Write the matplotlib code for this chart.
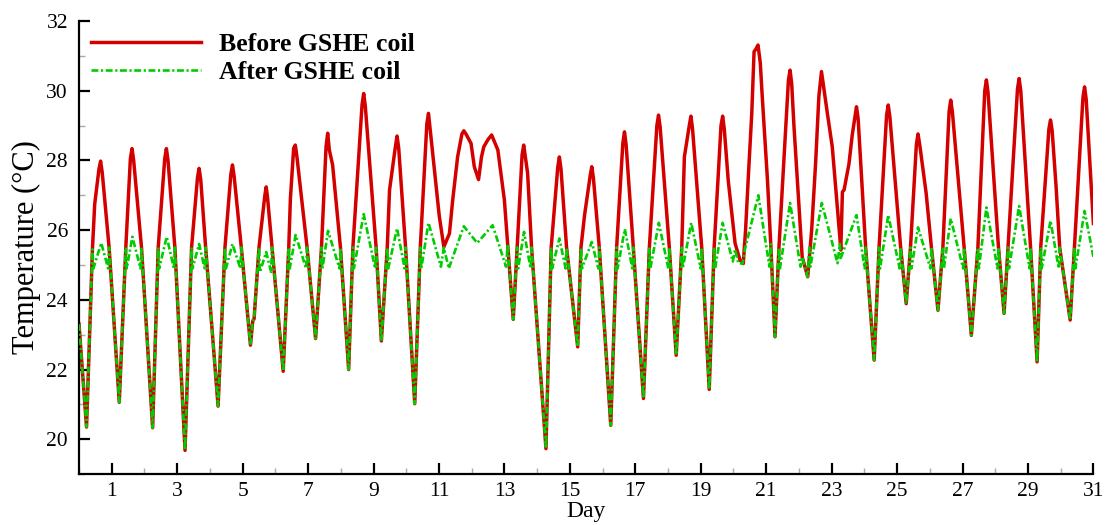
import matplotlib
matplotlib.use("Agg")
import matplotlib.pyplot as plt
from matplotlib.ticker import MultipleLocator

# (day, temperature in deg C)
red_time = [
    0.00, 0.23, 0.41, 0.48, 0.61, 0.66, 0.71, 0.92,
    1.23, 1.43, 1.57, 1.62, 1.67, 1.91,
    2.25, 2.42, 2.62, 2.67, 2.72, 2.93,
    3.24, 3.44, 3.62, 3.67, 3.72, 3.87,
    4.25, 4.46, 4.64, 4.69, 4.74, 4.96,
    5.24, 5.31, 5.35, 5.44, 5.50, 5.68, 5.72, 5.76, 5.90,
    6.24, 6.41, 6.46, 6.56, 6.61, 6.66, 6.97,
    7.23, 7.41, 7.55, 7.60, 7.65, 7.75, 7.99,
    8.24, 8.37, 8.65, 8.70, 8.75, 9.08,
    9.24, 9.42, 9.49, 9.67, 9.72, 9.77, 9.98,
    10.26, 10.43, 10.63, 10.68, 10.73, 10.86, 11.01, 11.15, 11.32, 11.42, 11.57,
    11.70, 11.76, 11.83, 11.98, 12.08, 12.21, 12.30, 12.37, 12.50, 12.61, 12.80,
    13.00, 13.10,
    13.27, 13.39, 13.54, 13.59, 13.64, 13.71, 13.83,
    14.27, 14.43, 14.63, 14.68, 14.73, 14.90,
    15.24, 15.34, 15.45, 15.62, 15.67, 15.72, 15.90,
    16.25, 16.43, 16.62, 16.67, 16.72, 16.94,
    17.25, 17.43, 17.66, 17.71, 17.76, 18.04,
    18.25, 18.42, 18.50, 18.65, 18.70, 18.75, 19.03,
    19.26, 19.41, 19.62, 19.67, 19.72, 19.84, 20.05, 20.20, 20.30, 20.37, 20.46,
    20.56, 20.63, 20.69, 20.75, 20.82, 20.88, 21.04, 21.14,
    21.27, 21.39, 21.68, 21.73, 21.78, 21.85, 22.10, 22.27, 22.39, 22.51, 22.61,
    22.69, 22.75, 22.87, 23.02, 23.25, 23.28, 23.33, 23.38, 23.53, 23.63, 23.76,
    23.81, 24.04,
    24.30, 24.45, 24.68, 24.73, 24.78, 25.11,
    25.28, 25.41, 25.59, 25.64, 25.70, 25.89, 26.05,
    26.25, 26.40, 26.59, 26.64, 26.69, 27.05,
    27.27, 27.47, 27.68, 27.73, 27.78, 28.10,
    28.27, 28.39, 28.68, 28.73, 28.78, 29.08,
    29.28, 29.39, 29.64, 29.69, 29.74, 29.86, 29.97,
    30.29, 30.42, 30.68, 30.73, 30.78, 31.00,
]
red_temp = [
    23.30, 20.35, 25.45, 26.75, 27.75, 27.98, 27.65, 25.50,
    21.06, 25.50, 28.05, 28.34, 28.00, 25.50,
    20.33, 25.50, 28.05, 28.34, 28.00, 25.50,
    19.68, 25.50, 27.50, 27.77, 27.45, 25.50,
    20.95, 25.50, 27.60, 27.87, 27.55, 25.50,
    22.70, 23.40, 23.45, 24.66, 25.50, 27.00, 27.24, 26.95, 25.50,
    21.95, 25.50, 26.90, 28.35, 28.44, 28.10, 25.50,
    22.89, 25.50, 28.40, 28.78, 28.30, 27.87, 25.50,
    22.00, 25.50, 29.60, 29.92, 29.55, 25.50,
    22.82, 25.50, 27.15, 28.40, 28.70, 28.35, 25.50,
    21.02, 25.50, 29.05, 29.35, 28.90, 27.70, 26.40, 25.52, 25.90, 26.86, 28.10,
    28.75, 28.85, 28.75, 28.49, 27.82, 27.45, 28.10, 28.39, 28.60, 28.73, 28.30,
    26.86, 25.60,
    23.44, 25.50, 28.15, 28.44, 28.10, 27.63, 25.50,
    19.73, 25.50, 27.80, 28.10, 27.75, 25.50,
    22.65, 25.50, 26.43, 27.55, 27.82, 27.50, 25.50,
    20.40, 25.50, 28.50, 28.82, 28.45, 25.50,
    21.17, 25.50, 29.00, 29.30, 28.95, 25.50,
    22.41, 25.50, 28.10, 29.00, 29.27, 28.90, 25.50,
    21.43, 25.50, 29.00, 29.27, 28.90, 27.43, 25.62, 25.14, 25.04, 26.00, 27.63,
    29.35, 31.12, 31.20, 31.31, 30.80, 29.83, 27.43, 25.60,
    22.94, 25.50, 30.30, 30.59, 30.20, 28.97, 25.23, 24.66, 26.00, 27.91, 29.83,
    30.55, 30.15, 29.35, 28.39, 25.81, 25.43, 27.10, 27.15, 27.90, 28.73, 29.54,
    29.20, 25.50,
    22.27, 25.50, 29.30, 29.59, 29.25, 25.50,
    23.89, 25.50, 28.45, 28.76, 28.40, 27.05, 25.50,
    23.70, 25.50, 29.40, 29.73, 29.40, 25.50,
    22.98, 25.50, 30.00, 30.31, 29.95, 25.50,
    23.61, 25.50, 30.05, 30.35, 30.00, 25.50,
    22.22, 25.50, 28.90, 29.16, 28.85, 27.24, 25.50,
    23.42, 25.50, 29.80, 30.11, 29.75, 26.19,
]

green_time = [
    0.00, 0.23, 0.41, 0.44, 0.68, 0.89, 0.92,
    1.23, 1.43, 1.46, 1.63, 1.88, 1.91,
    2.25, 2.42, 2.45, 2.68, 2.90, 2.93,
    3.24, 3.44, 3.47, 3.67, 3.84, 3.87,
    4.25, 4.46, 4.49, 4.69, 4.93, 4.96,
    5.24, 5.31, 5.35, 5.44, 5.50, 5.53, 5.72, 5.87, 5.90,
    6.24, 6.41, 6.44, 6.62, 6.94, 6.97,
    7.23, 7.41, 7.44, 7.61, 7.96, 7.99,
    8.24, 8.37, 8.40, 8.70, 9.05, 9.08,
    9.24, 9.42, 9.45, 9.72, 9.95, 9.98,
    10.26, 10.43, 10.46, 10.68, 11.06, 11.15, 11.30, 11.76, 12.17, 12.64, 13.05, 13.10,
    13.27, 13.39, 13.42, 13.60, 13.80, 13.83,
    14.27, 14.43, 14.46, 14.68, 14.87, 14.90,
    15.24, 15.34, 15.37, 15.67, 15.87, 15.90,
    16.25, 16.43, 16.46, 16.68, 16.91, 16.94,
    17.25, 17.43, 17.46, 17.72, 18.01, 18.04,
    18.25, 18.42, 18.45, 18.71, 19.00, 19.03,
    19.26, 19.41, 19.44, 19.67, 19.98, 20.05, 20.15, 20.28, 20.35, 20.76, 21.10, 21.14,
    21.27, 21.39, 21.42, 21.73, 22.05, 22.10, 22.27, 22.32, 22.35, 22.70, 23.18,
    23.25, 23.28, 23.76, 24.01, 24.04,
    24.30, 24.45, 24.48, 24.73, 25.08, 25.11,
    25.28, 25.41, 25.44, 25.64, 26.02, 26.05,
    26.25, 26.40, 26.43, 26.64, 27.02, 27.05,
    27.27, 27.47, 27.50, 27.73, 28.07, 28.10,
    28.27, 28.39, 28.42, 28.73, 29.05, 29.08,
    29.28, 29.39, 29.42, 29.69, 29.94, 29.97,
    30.29, 30.42, 30.45, 30.73, 31.00,
]
green_temp = [
    23.30, 20.35, 25.45, 24.90, 25.63, 24.90, 25.50,
    21.06, 25.50, 24.90, 25.81, 24.90, 25.50,
    20.33, 25.50, 24.90, 25.81, 24.90, 25.50,
    19.68, 25.50, 24.90, 25.60, 24.90, 25.50,
    20.95, 25.50, 24.90, 25.60, 24.90, 25.50,
    22.70, 23.40, 23.45, 24.66, 25.50, 24.80, 25.37, 24.80, 25.50,
    21.95, 25.50, 24.90, 25.86, 24.90, 25.50,
    22.89, 25.50, 24.90, 25.98, 24.90, 25.50,
    22.00, 25.50, 24.90, 26.46, 24.90, 25.50,
    22.82, 25.50, 24.90, 26.05, 24.90, 25.50,
    21.02, 25.50, 24.90, 26.21, 24.95, 25.50, 24.90, 26.11, 25.63, 26.14, 24.95, 25.60,
    23.44, 25.50, 24.90, 25.95, 24.90, 25.50,
    19.73, 25.50, 24.90, 25.76, 24.90, 25.50,
    22.65, 25.50, 24.90, 25.66, 24.90, 25.50,
    20.40, 25.50, 24.90, 26.03, 24.90, 25.50,
    21.17, 25.50, 24.90, 26.21, 24.90, 25.50,
    22.41, 25.50, 24.90, 26.21, 24.90, 25.50,
    21.43, 25.50, 24.90, 26.21, 25.10, 25.45, 25.05, 25.04, 25.45, 27.00, 24.95, 25.60,
    22.94, 25.50, 24.90, 26.78, 24.95, 25.23, 24.66, 25.50, 24.95, 26.78, 25.05,
    25.60, 25.20, 26.43, 24.90, 25.50,
    22.27, 25.50, 24.90, 26.43, 24.90, 25.50,
    23.89, 25.50, 24.90, 26.08, 24.90, 25.50,
    23.70, 25.50, 24.90, 26.33, 24.90, 25.50,
    22.98, 25.50, 24.90, 26.65, 24.90, 25.50,
    23.61, 25.50, 24.90, 26.69, 24.90, 25.50,
    22.22, 25.50, 24.90, 26.27, 24.90, 25.50,
    23.42, 25.50, 24.90, 26.55, 25.23,
]

x_ticks = list(range(1, 32, 2))
y_ticks = list(range(20, 33, 2))

plt.rcParams['font.family'] = ['Liberation Serif', 'DejaVu Serif']

fig = plt.figure(figsize=(11.05, 5.25), dpi=100)
ax = fig.add_axes([0.0715, 0.097, 0.918, 0.863])

ax.plot(red_time, red_temp, color='#d40000', lw=2.5, solid_joinstyle='round',
        label='Before GSHE coil', zorder=2)
ax.plot(green_time, green_temp, color='#00cc00', lw=1.9,
        linestyle=(0, (2.6, 1.0, 0.8, 1.0)), label='After GSHE coil', zorder=3)

ax.set_xlim(0, 31)
ax.set_ylim(19, 32)
ax.set_xticks(x_ticks)
ax.set_yticks(y_ticks)
ax.xaxis.set_minor_locator(MultipleLocator(1))
ax.yaxis.set_minor_locator(MultipleLocator(1))

for side in ['top', 'right']:
    ax.spines[side].set_visible(False)
for side in ['left', 'bottom']:
    ax.spines[side].set_linewidth(1.6)

ax.tick_params(which='major', direction='in', length=8, width=1.6, labelsize=15.5)
ax.tick_params(axis='y', which='major', pad=8)
ax.tick_params(axis='x', which='major', pad=6)
ax.tick_params(which='minor', direction='in', length=4.5, width=1.0, color='#aaaaaa')

ax.set_xlabel('Day', fontsize=17, labelpad=0)
ax.set_ylabel('Temperature (°C)', fontsize=22, labelpad=4)

leg = ax.legend(loc='upper left', bbox_to_anchor=(0.0118, 0.973), frameon=False,
                handlelength=4.3, handletextpad=0.7, labelspacing=0.2,
                borderaxespad=0, borderpad=0, prop={'weight': 'bold', 'size': 18.5})

fig.savefig('out.png', dpi=100)
